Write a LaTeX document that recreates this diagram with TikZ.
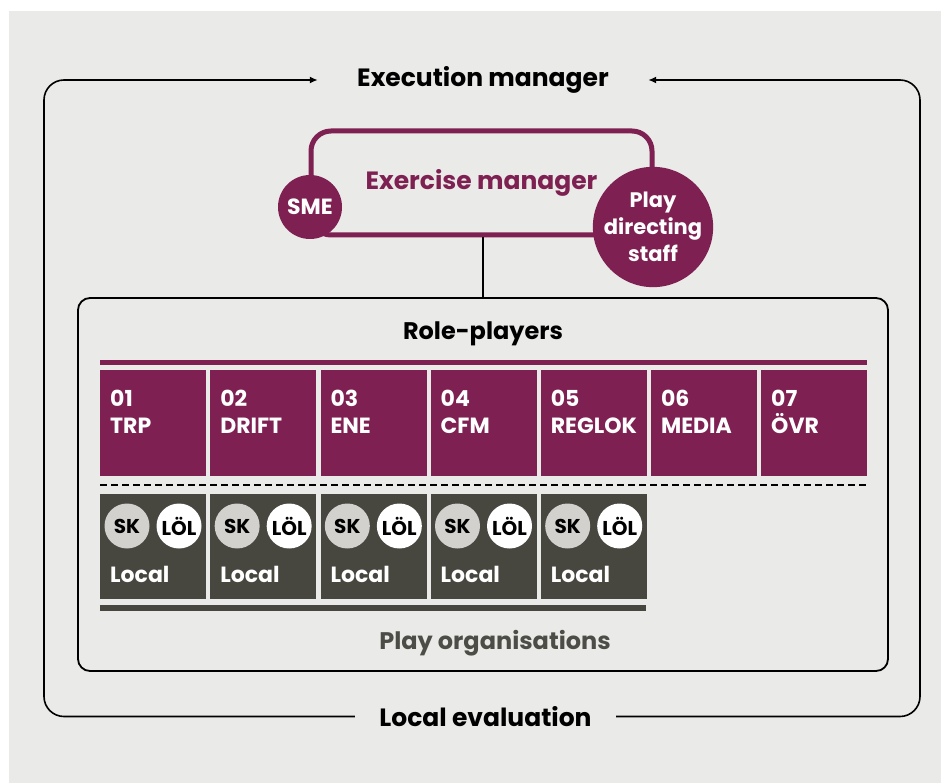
\documentclass[tikz,border=0pt]{standalone}
\usepackage{fontspec}
\setmainfont{Poppins}
\usetikzlibrary{arrows.meta,positioning,calc}
\definecolor{rolepurple}{HTML}{7E2152}
\definecolor{localgray}{HTML}{474740}
\definecolor{skgray}{HTML}{D2D1CD}
\definecolor{bggray}{HTML}{EAEAE8}
\definecolor{orggray}{HTML}{4D4D47}

\begin{document}
\begin{tikzpicture}[
  x=1pt, y=-1pt,
  every node/.style={inner sep=0pt, font=\fontsize{25}{30}\selectfont\bfseries},
  arr/.style={-{Latex[length=8pt, width=7pt]}, line width=1.6pt, rounded corners=20pt},
  title/.style={minimum height=26pt},
  rpbox/.style={fill=rolepurple, minimum width=106pt, minimum height=106pt, anchor=north west},
  rptext/.style={text=white, align=left, anchor=base west, font=\fontsize{22}{27}\selectfont\bfseries},
  localbox/.style={fill=localgray, minimum width=106pt, minimum height=105pt, anchor=north west},
  badge/.style={circle, minimum size=45pt, text=black, font=\fontsize{20}{22}\selectfont\bfseries},
  bigdot/.style={circle, fill=rolepurple, text=white, align=center},
]
  % background
  \useasboundingbox (0,0) rectangle (941,783);
  \fill[white] (0,0) rectangle (941,783);
  \fill[bggray] (9,11) rectangle (941,783);

  % execution loop
  \node[title, minimum width=330pt] (exec) at (483,80) {Execution manager};
  \node[title, minimum width=261pt] (loceval) at (485.5,716.5) {Local evaluation};
  \coordinate (tl) at (44,80);
  \coordinate (tr) at (920,80);
  \coordinate (bl) at (44,716.5);
  \coordinate (br) at (920,716.5);
  \draw[arr] (loceval.west) -- (bl) -- (tl) -- (exec.west);
  \draw[arr] (loceval.east) -- (br) -- (tr) -- (exec.east);

  % exercise manager
  \node[draw=rolepurple, line width=5pt, rounded corners=20pt, minimum width=341pt,
        minimum height=104pt, text=rolepurple] (exmgr) at (481.5,183) {Exercise manager};
  \node[bigdot, minimum size=64pt, font=\fontsize{22}{26}\selectfont\bfseries] (sme) at (310,207) {SME};
  \node[bigdot, minimum size=114pt, font=\fontsize{21}{27}\selectfont\bfseries] (pds) at (653,227) {Play\\directing\\staff};

  % role-players frame
  \node[draw, line width=1.8pt, rounded corners=12pt, minimum width=810pt, minimum height=373pt] (roleplay) at (483,484.5) {};
  \draw[line width=1.6pt] (exmgr.south -| roleplay.north) -- (roleplay.north);
  \node[title, font=\fontsize{24}{28}\selectfont\bfseries] (rptitle) at (483,334) {Role-players};

  \fill[rolepurple] (100,359.5) rectangle (867,365);
  \foreach \num/\name [count=\i] in {01/TRP, 02/DRIFT, 03/ENE, 04/CFM, 05/REGLOK, 06/MEDIA, 07/ÖVR} {
    \node[rpbox] (rp\i) at ({100+(\i-1)*110.17},370) {};
    \node[rptext] (rpt\i) at ([xshift=10pt, yshift=-63.5pt]rp\i.north west) {\num\\\name};
  }
  \draw[line width=2.8pt, dash pattern=on 7pt off 4pt] (100,485) -- (866,485);

  % play organisations
  \foreach \i in {1,...,5} {
    \node[localbox] (loc\i) at ({100+(\i-1)*110.17},494) {};
    \node[badge, fill=skgray] (sk\i) at ([xshift=27pt, yshift=-32pt]loc\i.north west) {SK};
    \node[badge, fill=white] (lol\i) at ([xshift=79pt, yshift=-32pt]loc\i.north west) {LÖL};
    \node[rptext] (loct\i) at ([xshift=10pt, yshift=-88pt]loc\i.north west) {Local};
  }
  \fill[localgray] (100,605) rectangle (646,610.5);
  \node[title, text=orggray, font=\fontsize{24}{28}\selectfont\bfseries] (playorg) at (495,643) {Play organisations};
\end{tikzpicture}
\end{document}
